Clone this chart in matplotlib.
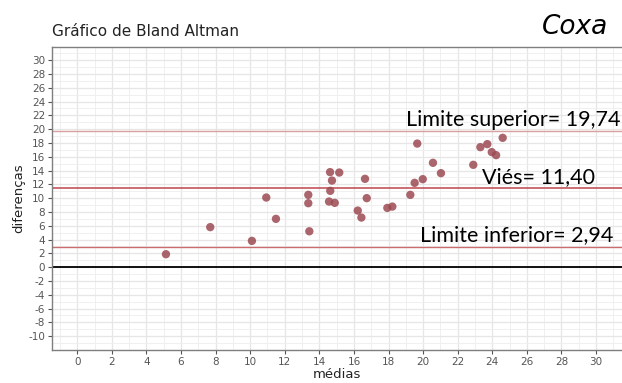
import matplotlib.pyplot as plt
from matplotlib.ticker import MultipleLocator

plt.rcParams['axes.unicode_minus'] = False

# médias (x) e diferenças (y) de cada par de medidas
medias = [5.13, 7.69, 10.10, 10.93, 11.49, 13.36, 13.36, 13.42,
          14.62, 15.15, 14.73, 14.63, 14.56, 14.89, 16.64, 16.74,
          16.22, 16.43, 17.93, 18.22, 19.26, 19.51, 19.98, 19.66,
          20.57, 21.03, 22.90, 23.31, 23.71, 23.97, 24.22, 24.60]
diferencas = [1.88, 5.80, 3.81, 10.09, 7.00, 10.48, 9.27, 5.20,
              13.77, 13.71, 12.55, 11.06, 9.51, 9.32, 12.80, 10.00,
              8.20, 7.19, 8.59, 8.78, 10.48, 12.22, 12.75, 17.91,
              15.12, 13.62, 14.83, 17.39, 17.83, 16.67, 16.23, 18.74]

vies = 11.40
lim_sup = 19.74
lim_inf = 2.94

xticks = list(range(0, 31, 2))
yticks = list(range(-10, 31, 2))

fig = plt.figure(figsize=(6.22, 3.83), dpi=100)
ax = fig.add_axes([52 / 622, 1 - 350 / 383, 570 / 622, (350 - 47) / 383])

ax.set_xlim(-1.46, 31.5)
ax.set_ylim(-12.0, 31.9)
ax.set_xticks(xticks)
ax.set_yticks(yticks)
ax.xaxis.set_minor_locator(MultipleLocator(1))
ax.yaxis.set_minor_locator(MultipleLocator(1))
ax.grid(which='major', color='#e6e6e6', lw=0.9)
ax.grid(which='minor', color='#eeeeee', lw=0.6)
ax.set_axisbelow(True)

for s in ax.spines.values():
    s.set_color('#7f7f7f')
    s.set_linewidth(1.0)
ax.spines['right'].set_visible(False)

ax.tick_params(which='major', length=3, width=0.8, color='#555555',
               labelsize=7.5, labelcolor='#555555', pad=2)
ax.tick_params(which='minor', length=0)

ax.axhline(0, color='black', lw=1.3)
ax.axhline(lim_sup, color='#d9a0a0', lw=1.0)
ax.axhline(vies, color='#c0464e', lw=1.1)
ax.axhline(lim_inf, color='#cc6c70', lw=1.0)

ax.scatter(medias, diferencas, s=36, color='#9c4a52', alpha=0.85,
           edgecolors='none', zorder=3)

ax.set_xlabel('médias', fontsize=9.5, color='#222222', labelpad=1)
ax.set_ylabel('diferenças', fontsize=9.5, color='#222222', labelpad=2)

fig.text(52 / 622, 1 - 36 / 383, 'Gráfico de Bland Altman', fontsize=11,
         color='#222222', va='baseline')
fig.text(608 / 622, 1 - 34 / 383, 'Coxa', fontsize=19, style='italic',
         ha='right', va='baseline')


def rotulo(valor):
    return f'{valor:.2f}'.replace('.', ',')


ax.text(31.39, lim_sup + 0.75, 'Limite superior= ' + rotulo(lim_sup),
        fontsize=15.5, family='Lato', ha='right', va='baseline')
ax.text(29.94, vies + 0.8, 'Viés= ' + rotulo(vies),
        fontsize=15.5, family='Lato', ha='right', va='baseline')
ax.text(30.98, lim_inf + 0.87, 'Limite inferior= ' + rotulo(lim_inf),
        fontsize=15.5, family='Lato', ha='right', va='baseline')

fig.savefig('out.png', dpi=100)
